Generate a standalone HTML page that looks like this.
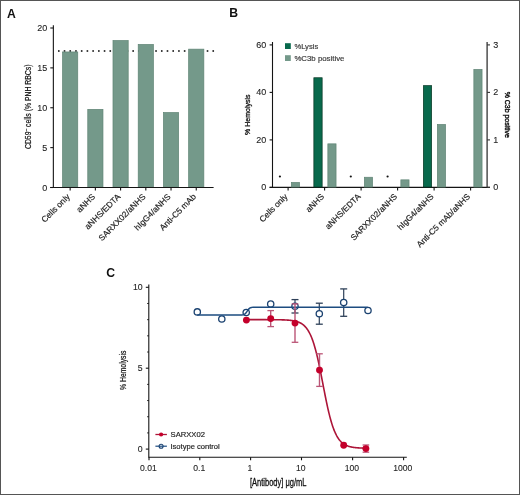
<!DOCTYPE html>
<html><head><meta charset="utf-8"><style>html,body{margin:0;padding:0;background:#fff;width:520px;height:495px;overflow:hidden}</style></head>
<body><svg width="520" height="495" viewBox="0 0 520 495" font-family='"Liberation Sans", sans-serif' style="display:block;will-change:transform">
<rect x="0" y="0" width="520" height="495" fill="#fff"/>
<text transform="translate(7.30 17.50) translate(-0.30 0)" font-size="12.2" fill="#111" font-weight="bold" >A</text>
<rect x="58.00" y="50.2" width="1.6" height="1.6" fill="#111"/><rect x="63.72" y="50.2" width="1.6" height="1.6" fill="#111"/><rect x="69.44" y="50.2" width="1.6" height="1.6" fill="#111"/><rect x="75.16" y="50.2" width="1.6" height="1.6" fill="#111"/><rect x="80.88" y="50.2" width="1.6" height="1.6" fill="#111"/><rect x="86.60" y="50.2" width="1.6" height="1.6" fill="#111"/><rect x="92.32" y="50.2" width="1.6" height="1.6" fill="#111"/><rect x="98.04" y="50.2" width="1.6" height="1.6" fill="#111"/><rect x="103.76" y="50.2" width="1.6" height="1.6" fill="#111"/><rect x="109.48" y="50.2" width="1.6" height="1.6" fill="#111"/><rect x="115.20" y="50.2" width="1.6" height="1.6" fill="#111"/><rect x="120.92" y="50.2" width="1.6" height="1.6" fill="#111"/><rect x="126.64" y="50.2" width="1.6" height="1.6" fill="#111"/><rect x="132.36" y="50.2" width="1.6" height="1.6" fill="#111"/><rect x="138.08" y="50.2" width="1.6" height="1.6" fill="#111"/><rect x="143.80" y="50.2" width="1.6" height="1.6" fill="#111"/><rect x="149.52" y="50.2" width="1.6" height="1.6" fill="#111"/><rect x="155.24" y="50.2" width="1.6" height="1.6" fill="#111"/><rect x="160.96" y="50.2" width="1.6" height="1.6" fill="#111"/><rect x="166.68" y="50.2" width="1.6" height="1.6" fill="#111"/><rect x="172.40" y="50.2" width="1.6" height="1.6" fill="#111"/><rect x="178.12" y="50.2" width="1.6" height="1.6" fill="#111"/><rect x="183.84" y="50.2" width="1.6" height="1.6" fill="#111"/><rect x="189.56" y="50.2" width="1.6" height="1.6" fill="#111"/><rect x="195.28" y="50.2" width="1.6" height="1.6" fill="#111"/><rect x="201.00" y="50.2" width="1.6" height="1.6" fill="#111"/><rect x="206.72" y="50.2" width="1.6" height="1.6" fill="#111"/><rect x="212.44" y="50.2" width="1.6" height="1.6" fill="#111"/>
<rect x="62.55" y="51.95" width="15.20" height="135.20" fill="#74998a" stroke="#5f8474" stroke-width="0.7"/>
<rect x="87.77" y="109.35" width="15.20" height="77.80" fill="#74998a" stroke="#5f8474" stroke-width="0.7"/>
<rect x="112.99" y="40.55" width="15.20" height="146.60" fill="#74998a" stroke="#5f8474" stroke-width="0.7"/>
<rect x="138.21" y="44.45" width="15.20" height="142.70" fill="#74998a" stroke="#5f8474" stroke-width="0.7"/>
<rect x="163.43" y="112.55" width="15.20" height="74.60" fill="#74998a" stroke="#5f8474" stroke-width="0.7"/>
<rect x="188.65" y="49.15" width="15.20" height="138.00" fill="#74998a" stroke="#5f8474" stroke-width="0.7"/>
<line x1="53.35" y1="25.20" x2="53.35" y2="187.50" stroke="#141414" stroke-width="1.1"/>
<line x1="50.20" y1="187.50" x2="213.60" y2="187.50" stroke="#141414" stroke-width="1.1"/>
<line x1="50.30" y1="187.50" x2="53.35" y2="187.50" stroke="#141414" stroke-width="1.1"/>
<text transform="translate(46.90 190.50) translate(-4.66 0) scale(1.06 1)" font-size="8.5" fill="#1e1e1e" stroke="#1e1e1e" stroke-width="0.1" >0</text>
<line x1="50.30" y1="147.62" x2="53.35" y2="147.62" stroke="#141414" stroke-width="1.1"/>
<text transform="translate(46.90 150.62) translate(-4.63 0) scale(1.06 1)" font-size="8.5" fill="#1e1e1e" stroke="#1e1e1e" stroke-width="0.1" >5</text>
<line x1="50.30" y1="107.75" x2="53.35" y2="107.75" stroke="#141414" stroke-width="1.1"/>
<text transform="translate(46.90 110.75) translate(-9.67 0) scale(1.06 1)" font-size="8.5" fill="#1e1e1e" stroke="#1e1e1e" stroke-width="0.1" >10</text>
<line x1="50.30" y1="67.88" x2="53.35" y2="67.88" stroke="#141414" stroke-width="1.1"/>
<text transform="translate(46.90 70.88) translate(-9.64 0) scale(1.06 1)" font-size="8.5" fill="#1e1e1e" stroke="#1e1e1e" stroke-width="0.1" >15</text>
<line x1="50.30" y1="28.00" x2="53.35" y2="28.00" stroke="#141414" stroke-width="1.1"/>
<text transform="translate(46.90 31.00) translate(-9.67 0) scale(1.06 1)" font-size="8.5" fill="#1e1e1e" stroke="#1e1e1e" stroke-width="0.1" >20</text>
<line x1="70.15" y1="187.50" x2="70.15" y2="190.60" stroke="#141414" stroke-width="1.1"/>
<text x="70.45" y="197.30" font-size="8.4" text-anchor="end" fill="#1e1e1e" stroke="#1e1e1e" stroke-width="0.18" transform="rotate(-45 70.45 197.30)">Cells only</text>
<line x1="95.37" y1="187.50" x2="95.37" y2="190.60" stroke="#141414" stroke-width="1.1"/>
<text x="95.67" y="197.30" font-size="8.4" text-anchor="end" fill="#1e1e1e" stroke="#1e1e1e" stroke-width="0.18" transform="rotate(-45 95.67 197.30)">aNHS</text>
<line x1="120.59" y1="187.50" x2="120.59" y2="190.60" stroke="#141414" stroke-width="1.1"/>
<text x="120.89" y="197.30" font-size="8.4" text-anchor="end" fill="#1e1e1e" stroke="#1e1e1e" stroke-width="0.18" transform="rotate(-45 120.89 197.30)">aNHS/EDTA</text>
<line x1="145.81" y1="187.50" x2="145.81" y2="190.60" stroke="#141414" stroke-width="1.1"/>
<text x="146.11" y="197.30" font-size="8.4" text-anchor="end" fill="#1e1e1e" stroke="#1e1e1e" stroke-width="0.18" transform="rotate(-45 146.11 197.30)">SARXX02/aNHS</text>
<line x1="171.03" y1="187.50" x2="171.03" y2="190.60" stroke="#141414" stroke-width="1.1"/>
<text x="171.33" y="197.30" font-size="8.4" text-anchor="end" fill="#1e1e1e" stroke="#1e1e1e" stroke-width="0.18" transform="rotate(-45 171.33 197.30)">hIgG4/aNHS</text>
<line x1="196.25" y1="187.50" x2="196.25" y2="190.60" stroke="#141414" stroke-width="1.1"/>
<text x="196.55" y="197.30" font-size="8.4" text-anchor="end" fill="#1e1e1e" stroke="#1e1e1e" stroke-width="0.18" transform="rotate(-45 196.55 197.30)">Anti-C5 mAb</text>
<text x="0" y="0" font-size="8.6" text-anchor="middle" fill="#111" stroke="#111" stroke-width="0.2" textLength="84.5" lengthAdjust="spacingAndGlyphs" transform="translate(31.2 106.8) rotate(-90)">CD59<tspan font-size="6" dy="-3">–</tspan><tspan dy="3"> cells (% PNH RBCs)</tspan></text>
<text transform="translate(230.10 17.30) translate(-0.82 0)" font-size="12.2" fill="#111" font-weight="bold" >B</text>
<line x1="272.50" y1="42.00" x2="272.50" y2="187.40" stroke="#141414" stroke-width="1.1"/>
<line x1="269.60" y1="187.40" x2="490.00" y2="187.40" stroke="#141414" stroke-width="1.1"/>
<line x1="487.10" y1="42.00" x2="487.10" y2="187.40" stroke="#333" stroke-width="1.3"/>
<line x1="269.60" y1="187.40" x2="272.50" y2="187.40" stroke="#141414" stroke-width="1.1"/>
<text transform="translate(266.00 190.30) translate(-4.66 0) scale(1.1 1)" font-size="8.2" fill="#1e1e1e" stroke="#1e1e1e" stroke-width="0.1" >0</text>
<line x1="269.60" y1="139.90" x2="272.50" y2="139.90" stroke="#141414" stroke-width="1.1"/>
<text transform="translate(266.00 142.80) translate(-9.68 0) scale(1.1 1)" font-size="8.2" fill="#1e1e1e" stroke="#1e1e1e" stroke-width="0.1" >20</text>
<line x1="269.60" y1="92.40" x2="272.50" y2="92.40" stroke="#141414" stroke-width="1.1"/>
<text transform="translate(266.00 95.30) translate(-9.68 0) scale(1.1 1)" font-size="8.2" fill="#1e1e1e" stroke="#1e1e1e" stroke-width="0.1" >40</text>
<line x1="269.60" y1="44.90" x2="272.50" y2="44.90" stroke="#141414" stroke-width="1.1"/>
<text transform="translate(266.00 47.80) translate(-9.68 0) scale(1.1 1)" font-size="8.2" fill="#1e1e1e" stroke="#1e1e1e" stroke-width="0.1" >60</text>
<line x1="487.10" y1="187.40" x2="490.00" y2="187.40" stroke="#333" stroke-width="1.1"/>
<text transform="translate(493.30 190.30) translate(0.00 0) scale(1.1 1)" font-size="8.2" fill="#1e1e1e" stroke="#1e1e1e" stroke-width="0.1" >0</text>
<line x1="487.10" y1="139.90" x2="490.00" y2="139.90" stroke="#333" stroke-width="1.1"/>
<text transform="translate(493.30 142.80) translate(0.00 0) scale(1.1 1)" font-size="8.2" fill="#1e1e1e" stroke="#1e1e1e" stroke-width="0.1" >1</text>
<line x1="487.10" y1="92.40" x2="490.00" y2="92.40" stroke="#333" stroke-width="1.1"/>
<text transform="translate(493.30 95.30) translate(0.00 0) scale(1.1 1)" font-size="8.2" fill="#1e1e1e" stroke="#1e1e1e" stroke-width="0.1" >2</text>
<line x1="487.10" y1="44.90" x2="490.00" y2="44.90" stroke="#333" stroke-width="1.1"/>
<text transform="translate(493.30 47.80) translate(0.00 0) scale(1.1 1)" font-size="8.2" fill="#1e1e1e" stroke="#1e1e1e" stroke-width="0.1" >3</text>
<rect x="291.35" y="182.45" width="8.20" height="4.60" fill="#74998a" stroke="#5f8474" stroke-width="0.7"/>
<ellipse cx="279.9" cy="176.5" rx="1.1" ry="0.9" fill="#111"/>
<line x1="288.10" y1="187.40" x2="288.10" y2="190.50" stroke="#141414" stroke-width="1.1"/>
<rect x="313.85" y="77.75" width="8.30" height="109.30" fill="#08694c" stroke="#063522" stroke-width="0.7"/>
<rect x="327.85" y="143.85" width="8.20" height="43.20" fill="#74998a" stroke="#5f8474" stroke-width="0.7"/>
<line x1="324.60" y1="187.40" x2="324.60" y2="190.50" stroke="#141414" stroke-width="1.1"/>
<rect x="364.35" y="177.25" width="8.20" height="9.80" fill="#74998a" stroke="#5f8474" stroke-width="0.7"/>
<ellipse cx="350.8" cy="176.5" rx="1.1" ry="0.9" fill="#111"/>
<line x1="361.10" y1="187.40" x2="361.10" y2="190.50" stroke="#141414" stroke-width="1.1"/>
<rect x="400.85" y="179.85" width="8.20" height="7.20" fill="#74998a" stroke="#5f8474" stroke-width="0.7"/>
<ellipse cx="387.6" cy="176.5" rx="1.1" ry="0.9" fill="#111"/>
<line x1="397.60" y1="187.40" x2="397.60" y2="190.50" stroke="#141414" stroke-width="1.1"/>
<rect x="423.35" y="85.65" width="8.30" height="101.40" fill="#08694c" stroke="#063522" stroke-width="0.7"/>
<rect x="437.35" y="124.45" width="8.20" height="62.60" fill="#74998a" stroke="#5f8474" stroke-width="0.7"/>
<line x1="434.10" y1="187.40" x2="434.10" y2="190.50" stroke="#141414" stroke-width="1.1"/>
<rect x="473.85" y="69.45" width="8.20" height="117.60" fill="#74998a" stroke="#5f8474" stroke-width="0.7"/>
<line x1="470.60" y1="187.40" x2="470.60" y2="190.50" stroke="#141414" stroke-width="1.1"/>
<text x="288.10" y="197.20" font-size="8.3" text-anchor="end" fill="#1e1e1e" stroke="#1e1e1e" stroke-width="0.18" transform="rotate(-45 288.10 197.20)">Cells only</text>
<text x="324.60" y="197.20" font-size="8.3" text-anchor="end" fill="#1e1e1e" stroke="#1e1e1e" stroke-width="0.18" transform="rotate(-45 324.60 197.20)">aNHS</text>
<text x="361.10" y="197.20" font-size="8.3" text-anchor="end" fill="#1e1e1e" stroke="#1e1e1e" stroke-width="0.18" transform="rotate(-45 361.10 197.20)">aNHS/EDTA</text>
<text x="397.60" y="197.20" font-size="8.3" text-anchor="end" fill="#1e1e1e" stroke="#1e1e1e" stroke-width="0.18" transform="rotate(-45 397.60 197.20)">SARXX02/aNHS</text>
<text x="434.10" y="197.20" font-size="8.3" text-anchor="end" fill="#1e1e1e" stroke="#1e1e1e" stroke-width="0.18" transform="rotate(-45 434.10 197.20)">hIgG4/aNHS</text>
<text x="470.60" y="197.20" font-size="8.3" text-anchor="end" fill="#1e1e1e" stroke="#1e1e1e" stroke-width="0.18" transform="rotate(-45 470.60 197.20)">Anti-C5 mAb/aNHS</text>
<rect x="285" y="43.2" width="5.8" height="5.8" fill="#08694c"/>
<rect x="285" y="55.2" width="5.8" height="5.8" fill="#74998a"/>
<text transform="translate(294.70 48.90) translate(-0.27 0)" font-size="7.6" fill="#3a3a3a" stroke="#3a3a3a" stroke-width="0.18" >%Lysis</text>
<text transform="translate(294.70 60.90) translate(-0.28 0) scale(1.03 1)" font-size="7.6" fill="#3a3a3a" stroke="#3a3a3a" stroke-width="0.18" >%C3b positive</text>
<text x="0" y="0" font-size="7.9" text-anchor="middle" fill="#111" stroke="#111" stroke-width="0.3" textLength="40.4" lengthAdjust="spacingAndGlyphs" transform="translate(249.9 114.7) rotate(-90)">% Hemolysis</text>
<text x="0" y="0" font-size="7.7" text-anchor="middle" fill="#111" stroke="#111" stroke-width="0.4" textLength="46.3" lengthAdjust="spacingAndGlyphs" transform="translate(505.1 114.8) rotate(90)">% C3b positive</text>
<text transform="translate(106.80 276.70) translate(-0.50 0)" font-size="12.2" fill="#111" font-weight="bold" >C</text>
<line x1="148.80" y1="284.60" x2="148.80" y2="457.85" stroke="#141414" stroke-width="1.1"/>
<line x1="148.80" y1="457.30" x2="406.80" y2="457.30" stroke="#141414" stroke-width="1.1"/>
<line x1="145.80" y1="449.10" x2="148.80" y2="449.10" stroke="#141414" stroke-width="1.1"/>
<text transform="translate(142.30 452.00) translate(-4.54 0) scale(1.07 1)" font-size="8.2" fill="#1e1e1e" stroke="#1e1e1e" stroke-width="0.1" >0</text>
<line x1="147.20" y1="432.92" x2="148.80" y2="432.92" stroke="#141414" stroke-width="1.0"/>
<line x1="147.20" y1="416.74" x2="148.80" y2="416.74" stroke="#141414" stroke-width="1.0"/>
<line x1="147.20" y1="400.56" x2="148.80" y2="400.56" stroke="#141414" stroke-width="1.0"/>
<line x1="147.20" y1="384.38" x2="148.80" y2="384.38" stroke="#141414" stroke-width="1.0"/>
<line x1="145.80" y1="368.20" x2="148.80" y2="368.20" stroke="#141414" stroke-width="1.1"/>
<text transform="translate(142.30 371.10) translate(-4.51 0) scale(1.07 1)" font-size="8.2" fill="#1e1e1e" stroke="#1e1e1e" stroke-width="0.1" >5</text>
<line x1="147.20" y1="352.02" x2="148.80" y2="352.02" stroke="#141414" stroke-width="1.0"/>
<line x1="147.20" y1="335.84" x2="148.80" y2="335.84" stroke="#141414" stroke-width="1.0"/>
<line x1="147.20" y1="319.66" x2="148.80" y2="319.66" stroke="#141414" stroke-width="1.0"/>
<line x1="147.20" y1="303.48" x2="148.80" y2="303.48" stroke="#141414" stroke-width="1.0"/>
<line x1="145.80" y1="287.30" x2="148.80" y2="287.30" stroke="#141414" stroke-width="1.1"/>
<text transform="translate(142.30 290.20) translate(-9.42 0) scale(1.07 1)" font-size="8.2" fill="#1e1e1e" stroke="#1e1e1e" stroke-width="0.1" >10</text>
<line x1="149.00" y1="457.30" x2="149.00" y2="460.30" stroke="#141414" stroke-width="1.1"/>
<text transform="translate(148.40 471.10) translate(-8.36 0) scale(1.04 1)" font-size="8.3" fill="#1e1e1e" stroke="#1e1e1e" stroke-width="0.1" >0.01</text>
<line x1="199.80" y1="457.30" x2="199.80" y2="460.30" stroke="#141414" stroke-width="1.1"/>
<text transform="translate(199.20 471.10) translate(-5.96 0) scale(1.04 1)" font-size="8.3" fill="#1e1e1e" stroke="#1e1e1e" stroke-width="0.1" >0.1</text>
<line x1="250.60" y1="457.30" x2="250.60" y2="460.30" stroke="#141414" stroke-width="1.1"/>
<text transform="translate(250.00 471.10) translate(-2.52 0) scale(1.04 1)" font-size="8.3" fill="#1e1e1e" stroke="#1e1e1e" stroke-width="0.1" >1</text>
<line x1="301.50" y1="457.30" x2="301.50" y2="460.30" stroke="#141414" stroke-width="1.1"/>
<text transform="translate(300.90 471.10) translate(-4.96 0) scale(1.04 1)" font-size="8.3" fill="#1e1e1e" stroke="#1e1e1e" stroke-width="0.1" >10</text>
<line x1="352.60" y1="457.30" x2="352.60" y2="460.30" stroke="#141414" stroke-width="1.1"/>
<text transform="translate(352.00 471.10) translate(-7.36 0) scale(1.04 1)" font-size="8.3" fill="#1e1e1e" stroke="#1e1e1e" stroke-width="0.1" >100</text>
<line x1="403.60" y1="457.30" x2="403.60" y2="460.30" stroke="#141414" stroke-width="1.1"/>
<text transform="translate(403.00 471.10) translate(-9.76 0) scale(1.04 1)" font-size="8.3" fill="#1e1e1e" stroke="#1e1e1e" stroke-width="0.1" >1000</text>
<text x="278.2" y="485.7" font-size="10.1" text-anchor="middle" fill="#111" stroke="#111" stroke-width="0.3" textLength="56.5" lengthAdjust="spacingAndGlyphs">[Antibody] μg/mL</text>
<text x="0" y="0" font-size="8.6" text-anchor="middle" fill="#111" stroke="#111" stroke-width="0.2" textLength="39.3" lengthAdjust="spacingAndGlyphs" transform="translate(126.2 370.3) rotate(-90)">% Hemolysis</text>
<line x1="295.00" y1="299.60" x2="295.00" y2="313.00" stroke="#2e4058" stroke-width="1.2"/>
<line x1="291.50" y1="299.60" x2="298.50" y2="299.60" stroke="#2e4058" stroke-width="1.3"/>
<line x1="291.50" y1="313.00" x2="298.50" y2="313.00" stroke="#2e4058" stroke-width="1.3"/>
<line x1="319.30" y1="303.20" x2="319.30" y2="324.20" stroke="#2e4058" stroke-width="1.2"/>
<line x1="315.80" y1="303.20" x2="322.80" y2="303.20" stroke="#2e4058" stroke-width="1.3"/>
<line x1="315.80" y1="324.20" x2="322.80" y2="324.20" stroke="#2e4058" stroke-width="1.3"/>
<line x1="343.70" y1="288.90" x2="343.70" y2="316.30" stroke="#2e4058" stroke-width="1.2"/>
<line x1="340.20" y1="288.90" x2="347.20" y2="288.90" stroke="#2e4058" stroke-width="1.3"/>
<line x1="340.20" y1="316.30" x2="347.20" y2="316.30" stroke="#2e4058" stroke-width="1.3"/>
<circle cx="197.3" cy="311.9" r="3.15" fill="#fff" stroke="#1b4270" stroke-width="1.3"/>
<circle cx="221.8" cy="319.0" r="3.15" fill="#fff" stroke="#1b4270" stroke-width="1.3"/>
<circle cx="246.2" cy="312.5" r="3.15" fill="#fff" stroke="#1b4270" stroke-width="1.3"/>
<circle cx="270.7" cy="304.0" r="3.15" fill="#fff" stroke="#1b4270" stroke-width="1.3"/>
<circle cx="295.0" cy="306.3" r="3.15" fill="#fff" stroke="#1b4270" stroke-width="1.3"/>
<circle cx="319.3" cy="313.7" r="3.15" fill="#fff" stroke="#1b4270" stroke-width="1.3"/>
<circle cx="343.7" cy="302.6" r="3.15" fill="#fff" stroke="#1b4270" stroke-width="1.3"/>
<circle cx="368.0" cy="310.5" r="3.15" fill="#fff" stroke="#1b4270" stroke-width="1.3"/>
<polyline points="197.20,315.10 197.70,315.10 198.20,315.10 198.70,315.10 199.20,315.10 199.70,315.10 200.20,315.10 200.70,315.10 201.20,315.10 201.70,315.10 202.20,315.10 202.70,315.10 203.20,315.10 203.70,315.10 204.20,315.10 204.70,315.10 205.20,315.10 205.70,315.10 206.20,315.10 206.70,315.10 207.20,315.10 207.70,315.10 208.20,315.10 208.70,315.10 209.20,315.10 209.70,315.10 210.20,315.10 210.70,315.10 211.20,315.10 211.70,315.10 212.20,315.10 212.70,315.10 213.20,315.10 213.70,315.10 214.20,315.10 214.70,315.10 215.20,315.10 215.70,315.10 216.20,315.10 216.70,315.10 217.20,315.10 217.70,315.10 218.20,315.10 218.70,315.10 219.20,315.10 219.70,315.10 220.20,315.10 220.70,315.10 221.20,315.10 221.70,315.10 222.20,315.10 222.70,315.10 223.20,315.10 223.70,315.10 224.20,315.10 224.70,315.10 225.20,315.10 225.70,315.10 226.20,315.10 226.70,315.10 227.20,315.10 227.70,315.10 228.20,315.10 228.70,315.10 229.20,315.10 229.70,315.10 230.20,315.10 230.70,315.10 231.20,315.10 231.70,315.10 232.20,315.10 232.70,315.10 233.20,315.10 233.70,315.10 234.20,315.10 234.70,315.10 235.20,315.10 235.70,315.10 236.20,315.10 236.70,315.10 237.20,315.10 237.70,315.09 238.20,315.09 238.70,315.09 239.20,315.08 239.70,315.08 240.20,315.06 240.70,315.05 241.20,315.02 241.70,314.99 242.20,314.93 242.70,314.86 243.20,314.75 243.70,314.60 244.20,314.39 244.70,314.09 245.20,313.70 245.70,313.21 246.20,312.60 246.70,311.90 247.20,311.15 247.70,310.40 248.20,309.70 248.70,309.09 249.20,308.60 249.70,308.21 250.20,307.91 250.70,307.70 251.20,307.55 251.70,307.44 252.20,307.37 252.70,307.31 253.20,307.28 253.70,307.25 254.20,307.24 254.70,307.22 255.20,307.22 255.70,307.21 256.20,307.21 256.70,307.21 257.20,307.20 257.70,307.20 258.20,307.20 258.70,307.20 259.20,307.20 259.70,307.20 260.20,307.20 260.70,307.20 261.20,307.20 261.70,307.20 262.20,307.20 262.70,307.20 263.20,307.20 263.70,307.20 264.20,307.20 264.70,307.20 265.20,307.20 265.70,307.20 266.20,307.20 266.70,307.20 267.20,307.20 267.70,307.20 268.20,307.20 268.70,307.20 269.20,307.20 269.70,307.20 270.20,307.20 270.70,307.20 271.20,307.20 271.70,307.20 272.20,307.20 272.70,307.20 273.20,307.20 273.70,307.20 274.20,307.20 274.70,307.20 275.20,307.20 275.70,307.20 276.20,307.20 276.70,307.20 277.20,307.20 277.70,307.20 278.20,307.20 278.70,307.20 279.20,307.20 279.70,307.20 280.20,307.20 280.70,307.20 281.20,307.20 281.70,307.20 282.20,307.20 282.70,307.20 283.20,307.20 283.70,307.20 284.20,307.20 284.70,307.20 285.20,307.20 285.70,307.20 286.20,307.20 286.70,307.20 287.20,307.20 287.70,307.20 288.20,307.20 288.70,307.20 289.20,307.20 289.70,307.20 290.20,307.20 290.70,307.20 291.20,307.20 291.70,307.20 292.20,307.20 292.70,307.20 293.20,307.20 293.70,307.20 294.20,307.20 294.70,307.20 295.20,307.20 295.70,307.20 296.20,307.20 296.70,307.20 297.20,307.20 297.70,307.20 298.20,307.20 298.70,307.20 299.20,307.20 299.70,307.20 300.20,307.20 300.70,307.20 301.20,307.20 301.70,307.20 302.20,307.20 302.70,307.20 303.20,307.20 303.70,307.20 304.20,307.20 304.70,307.20 305.20,307.20 305.70,307.20 306.20,307.20 306.70,307.20 307.20,307.20 307.70,307.20 308.20,307.20 308.70,307.20 309.20,307.20 309.70,307.20 310.20,307.20 310.70,307.20 311.20,307.20 311.70,307.20 312.20,307.20 312.70,307.20 313.20,307.20 313.70,307.20 314.20,307.20 314.70,307.20 315.20,307.20 315.70,307.20 316.20,307.20 316.70,307.20 317.20,307.20 317.70,307.20 318.20,307.20 318.70,307.20 319.20,307.20 319.70,307.20 320.20,307.20 320.70,307.20 321.20,307.20 321.70,307.20 322.20,307.20 322.70,307.20 323.20,307.20 323.70,307.20 324.20,307.20 324.70,307.20 325.20,307.20 325.70,307.20 326.20,307.20 326.70,307.20 327.20,307.20 327.70,307.20 328.20,307.20 328.70,307.20 329.20,307.20 329.70,307.20 330.20,307.20 330.70,307.20 331.20,307.20 331.70,307.20 332.20,307.20 332.70,307.20 333.20,307.20 333.70,307.20 334.20,307.20 334.70,307.20 335.20,307.20 335.70,307.20 336.20,307.20 336.70,307.20 337.20,307.20 337.70,307.20 338.20,307.20 338.70,307.20 339.20,307.20 339.70,307.20 340.20,307.20 340.70,307.20 341.20,307.20 341.70,307.20 342.20,307.20 342.70,307.20 343.20,307.20 343.70,307.20 344.20,307.20 344.70,307.20 345.20,307.20 345.70,307.20 346.20,307.20 346.70,307.20 347.20,307.20 347.70,307.20 348.20,307.20 348.70,307.20 349.20,307.20 349.70,307.20 350.20,307.20 350.70,307.20 351.20,307.20 351.70,307.20 352.20,307.20 352.70,307.20 353.20,307.20 353.70,307.20 354.20,307.20 354.70,307.20 355.20,307.20 355.70,307.20 356.20,307.20 356.70,307.20 357.20,307.20 357.70,307.20 358.20,307.20 358.70,307.20 359.20,307.20 359.70,307.20 360.20,307.20 360.70,307.20 361.20,307.20 361.70,307.20 362.20,307.20 362.70,307.20 363.20,307.20 363.70,307.20 364.20,307.20 364.70,307.20 365.20,307.20 365.70,307.20 366.20,307.20 366.70,307.20 367.20,307.20 367.70,307.20" fill="none" stroke="#1d4c80" stroke-width="1.5"/>
<polyline points="246.40,319.66 246.90,319.66 247.40,319.66 247.90,319.66 248.40,319.66 248.90,319.66 249.40,319.66 249.90,319.66 250.40,319.66 250.90,319.66 251.40,319.66 251.90,319.66 252.40,319.66 252.90,319.66 253.40,319.66 253.90,319.66 254.40,319.66 254.90,319.66 255.40,319.66 255.90,319.66 256.40,319.66 256.90,319.66 257.40,319.66 257.90,319.66 258.40,319.66 258.90,319.66 259.40,319.66 259.90,319.66 260.40,319.67 260.90,319.67 261.40,319.67 261.90,319.67 262.40,319.67 262.90,319.67 263.40,319.67 263.90,319.67 264.40,319.67 264.90,319.67 265.40,319.67 265.90,319.67 266.40,319.67 266.90,319.68 267.40,319.68 267.90,319.68 268.40,319.68 268.90,319.68 269.40,319.68 269.90,319.68 270.40,319.69 270.90,319.69 271.40,319.69 271.90,319.69 272.40,319.70 272.90,319.70 273.40,319.70 273.90,319.71 274.40,319.71 274.90,319.72 275.40,319.72 275.90,319.73 276.40,319.73 276.90,319.74 277.40,319.74 277.90,319.75 278.40,319.76 278.90,319.77 279.40,319.78 279.90,319.78 280.40,319.80 280.90,319.81 281.40,319.82 281.90,319.83 282.40,319.85 282.90,319.86 283.40,319.88 283.90,319.90 284.40,319.92 284.90,319.94 285.40,319.96 285.90,319.99 286.40,320.02 286.90,320.05 287.40,320.08 287.90,320.11 288.40,320.15 288.90,320.19 289.40,320.24 289.90,320.28 290.40,320.34 290.90,320.39 291.40,320.45 291.90,320.52 292.40,320.59 292.90,320.67 293.40,320.75 293.90,320.85 294.40,320.94 294.90,321.05 295.40,321.17 295.90,321.29 296.40,321.43 296.90,321.57 297.40,321.73 297.90,321.90 298.40,322.09 298.90,322.29 299.40,322.50 299.90,322.73 300.40,322.99 300.90,323.26 301.40,323.55 301.90,323.87 302.40,324.21 302.90,324.57 303.40,324.97 303.90,325.40 304.40,325.85 304.90,326.35 305.40,326.88 305.90,327.45 306.40,328.06 306.90,328.71 307.40,329.42 307.90,330.17 308.40,330.98 308.90,331.84 309.40,332.75 309.90,333.73 310.40,334.78 310.90,335.89 311.40,337.06 311.90,338.31 312.40,339.64 312.90,341.04 313.40,342.51 313.90,344.07 314.40,345.70 314.90,347.42 315.40,349.21 315.90,351.09 316.40,353.04 316.90,355.08 317.40,357.18 317.90,359.36 318.40,361.61 318.90,363.92 319.40,366.29 319.90,368.71 320.40,371.18 320.90,373.69 321.40,376.23 321.90,378.80 322.40,381.38 322.90,383.98 323.40,386.57 323.90,389.15 324.40,391.72 324.90,394.26 325.40,396.77 325.90,399.24 326.40,401.66 326.90,404.03 327.40,406.34 327.90,408.59 328.40,410.77 328.90,412.87 329.40,414.91 329.90,416.86 330.40,418.74 330.90,420.53 331.40,422.25 331.90,423.88 332.40,425.44 332.90,426.91 333.40,428.31 333.90,429.64 334.40,430.89 334.90,432.06 335.40,433.17 335.90,434.22 336.40,435.20 336.90,436.12 337.40,436.98 337.90,437.78 338.40,438.53 338.90,439.24 339.40,439.89 339.90,440.50 340.40,441.07 340.90,441.60 341.40,442.10 341.90,442.55 342.40,442.98 342.90,443.38 343.40,443.74 343.90,444.08 344.40,444.40 344.90,444.69 345.40,444.97 345.90,445.22 346.40,445.45 346.90,445.67 347.40,445.86 347.90,446.05 348.40,446.22 348.90,446.38 349.40,446.52 349.90,446.66 350.40,446.78 350.90,446.90 351.40,447.01 351.90,447.11 352.40,447.20 352.90,447.28 353.40,447.36 353.90,447.43 354.40,447.50 354.90,447.56 355.40,447.61 355.90,447.67 356.40,447.71 356.90,447.76 357.40,447.80 357.90,447.84 358.40,447.87 358.90,447.91 359.40,447.94 359.90,447.96 360.40,447.99 360.90,448.01 361.40,448.03 361.90,448.05 362.40,448.07 362.90,448.09 363.40,448.10 363.90,448.12 364.40,448.13 364.90,448.14 365.40,448.16 365.90,448.17" fill="none" stroke="#ad1538" stroke-width="1.6"/>
<line x1="270.70" y1="310.60" x2="270.70" y2="326.60" stroke="#bb5577" stroke-width="1.4"/>
<line x1="267.40" y1="310.60" x2="274.00" y2="310.60" stroke="#bb5577" stroke-width="1.3"/>
<line x1="267.40" y1="326.60" x2="274.00" y2="326.60" stroke="#bb5577" stroke-width="1.3"/>
<line x1="295.00" y1="303.90" x2="295.00" y2="342.30" stroke="#bb5577" stroke-width="1.4"/>
<line x1="291.70" y1="303.90" x2="298.30" y2="303.90" stroke="#bb5577" stroke-width="1.3"/>
<line x1="291.70" y1="342.30" x2="298.30" y2="342.30" stroke="#bb5577" stroke-width="1.3"/>
<line x1="319.50" y1="353.80" x2="319.50" y2="386.40" stroke="#bb5577" stroke-width="1.4"/>
<line x1="316.20" y1="353.80" x2="322.80" y2="353.80" stroke="#bb5577" stroke-width="1.3"/>
<line x1="316.20" y1="386.40" x2="322.80" y2="386.40" stroke="#bb5577" stroke-width="1.3"/>
<line x1="365.90" y1="445.00" x2="365.90" y2="452.20" stroke="#bb5577" stroke-width="1.4"/>
<line x1="362.60" y1="445.00" x2="369.20" y2="445.00" stroke="#bb5577" stroke-width="1.3"/>
<line x1="362.60" y1="452.20" x2="369.20" y2="452.20" stroke="#bb5577" stroke-width="1.3"/>
<circle cx="246.4" cy="320.1" r="3.45" fill="#c4002b"/>
<circle cx="270.7" cy="318.6" r="3.45" fill="#c4002b"/>
<circle cx="295.0" cy="323.1" r="3.45" fill="#c4002b"/>
<circle cx="319.5" cy="370.1" r="3.45" fill="#c4002b"/>
<circle cx="343.7" cy="445.2" r="3.45" fill="#c4002b"/>
<circle cx="365.9" cy="448.6" r="3.45" fill="#c4002b"/>
<line x1="155.40" y1="434.50" x2="166.90" y2="434.50" stroke="#ad1538" stroke-width="1.3"/>
<circle cx="161.1" cy="434.5" r="2.1" fill="#c4002b"/>
<circle cx="161.1" cy="446.2" r="2.0" fill="#fff" stroke="#1b4270" stroke-width="1.1"/>
<line x1="155.40" y1="446.20" x2="166.90" y2="446.20" stroke="#1d4c80" stroke-width="1.2"/>
<text transform="translate(170.90 437.00) translate(-0.35 0) scale(0.98 1)" font-size="7.8" fill="#1e1e1e" stroke="#1e1e1e" stroke-width="0.18" >SARXX02</text>
<text transform="translate(171.10 448.60) translate(-0.70 0)" font-size="7.6" fill="#1e1e1e" stroke="#1e1e1e" stroke-width="0.18" >Isotype control</text>
<rect x="0.5" y="0.5" width="519" height="494" fill="none" stroke="#555" stroke-width="1"/>
</svg></body></html>
